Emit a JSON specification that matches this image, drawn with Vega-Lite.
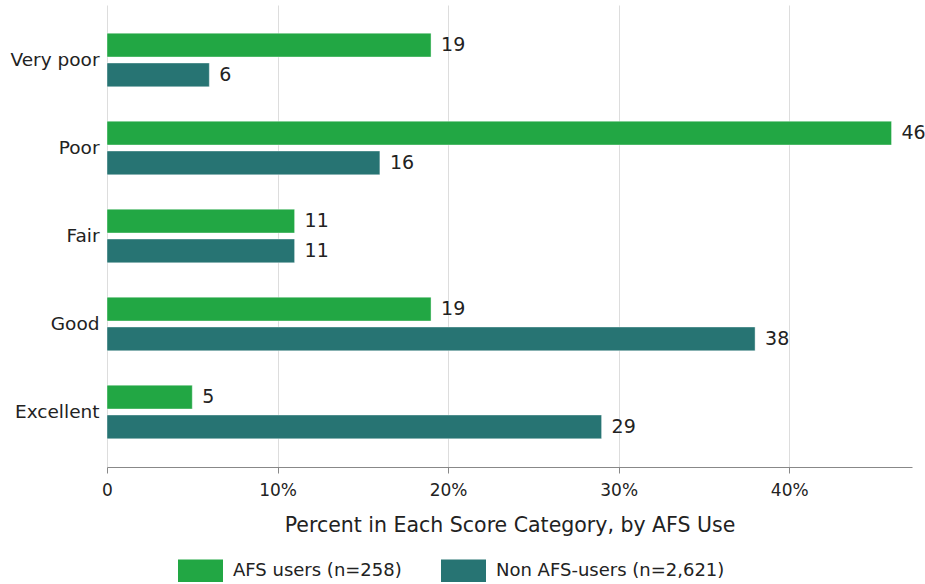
{
  "$schema": "https://vega.github.io/schema/vega-lite/v6.json",
  "width": 805,
  "height": 462,
  "autosize": {"type": "none"},
  "padding": {"left": 107, "top": 5, "right": 13, "bottom": 117},
  "background": "white",
  "config": {
    "view": {"stroke": null},
    "font": "DejaVu Sans"
  },
  "data": {
    "values": [
      {"category": "Very poor", "group": "AFS users (n=258)", "value": 19},
      {"category": "Very poor", "group": "Non AFS-users (n=2,621)", "value": 6},
      {"category": "Poor", "group": "AFS users (n=258)", "value": 46},
      {"category": "Poor", "group": "Non AFS-users (n=2,621)", "value": 16},
      {"category": "Fair", "group": "AFS users (n=258)", "value": 11},
      {"category": "Fair", "group": "Non AFS-users (n=2,621)", "value": 11},
      {"category": "Good", "group": "AFS users (n=258)", "value": 19},
      {"category": "Good", "group": "Non AFS-users (n=2,621)", "value": 38},
      {"category": "Excellent", "group": "AFS users (n=258)", "value": 5},
      {"category": "Excellent", "group": "Non AFS-users (n=2,621)", "value": 29}
    ]
  },
  "encoding": {
    "y": {
      "field": "category",
      "type": "nominal",
      "sort": ["Very poor", "Poor", "Fair", "Good", "Excellent"],
      "scale": {"paddingInner": 0.39, "paddingOuter": 0.32},
      "axis": {
        "title": null,
        "domain": false,
        "ticks": false,
        "labelFontSize": 18.5,
        "labelColor": "#222",
        "labelPadding": 8
      }
    },
    "yOffset": {
      "field": "group",
      "type": "nominal",
      "scale": {"paddingInner": 0.2, "paddingOuter": 0}
    },
    "x": {
      "field": "value",
      "type": "quantitative",
      "scale": {"domain": [0, 47.2], "nice": false},
      "axis": {
        "values": [0, 10, 20, 30, 40],
        "labelExpr": "datum.value == 0 ? '0' : datum.value + '%'",
        "labelFlush": false,
        "title": "Percent in Each Score Category, by AFS Use",
        "titleFontSize": 20.5,
        "titleFontWeight": "normal",
        "titleColor": "#222",
        "titlePadding": 17,
        "labelFontSize": 17,
        "labelColor": "#222",
        "labelPadding": 9,
        "tickSize": 6,
        "tickColor": "#888",
        "domainColor": "#888",
        "gridColor": "#dddddd",
        "grid": true
      }
    }
  },
  "layer": [
    {
      "mark": {"type": "bar", "stroke": "#ffffff", "strokeOpacity": 0.4, "strokeWidth": 1},
      "encoding": {
        "color": {
          "field": "group",
          "type": "nominal",
          "scale": {"range": ["#22a744", "#277473"]},
          "legend": {
            "title": null,
            "orient": "none",
            "direction": "horizontal",
            "legendX": 71,
            "legendY": 543,
            "symbolType": "M-1,-0.5H1V0.5H-1Z",
            "symbolSize": 2025,
            "symbolOpacity": 1,
            "symbolStrokeWidth": 0,
            "labelFontSize": 18,
            "labelLimit": 400,
            "labelColor": "#222",
            "labelOffset": 10,
            "columnPadding": 39
          }
        }
      }
    },
    {
      "mark": {"type": "text", "align": "left", "baseline": "middle", "dx": 10, "fontSize": 19, "color": "#222"},
      "encoding": {
        "text": {"field": "value", "type": "quantitative"}
      }
    }
  ]
}
